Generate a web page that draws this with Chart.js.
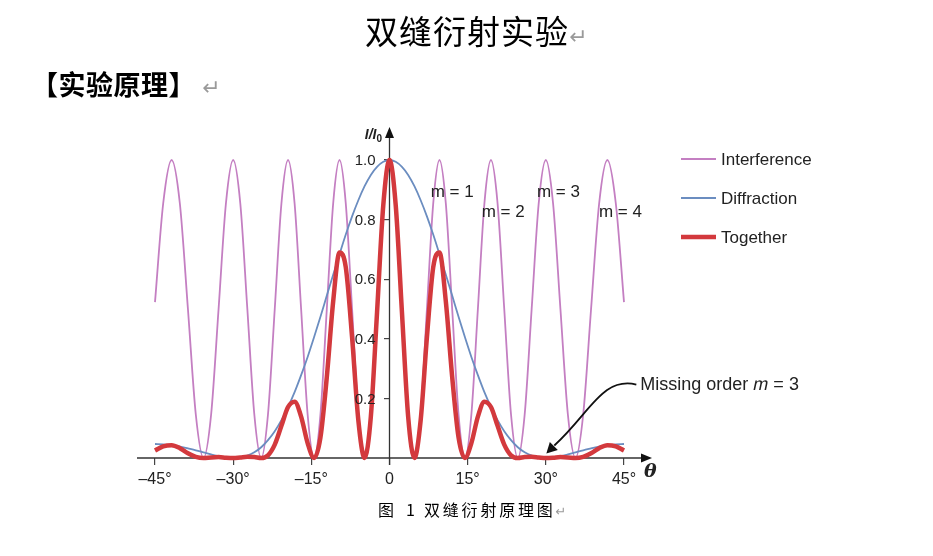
<!DOCTYPE html>
<html><head><meta charset="utf-8">
<script src="https://cdn.jsdelivr.net/npm/chart.js@4.4.1/dist/chart.umd.min.js"></script>
<style>
html,body{margin:0;padding:0;background:#fff;width:933px;height:556px;overflow:hidden;}
#wrap{position:relative;width:933px;height:556px;background:#fff;}
canvas{position:absolute;left:0;top:0;}
.t{position:absolute;white-space:nowrap;font-family:"Noto Sans CJK SC",sans-serif;color:#000;}
.ret{color:#9a9a9a;font-family:"DejaVu Sans",sans-serif;font-weight:400;}
</style></head><body>
<div id="wrap">
<canvas id="c" width="933" height="556"></canvas>
<div class="t" style="left:365px;top:14px;font-size:33px;line-height:33px;letter-spacing:1px;">双缝衍射实验<span class="ret" style="font-size:22px;letter-spacing:0;">↵</span></div>
<div class="t" style="left:31px;top:70px;font-size:27px;line-height:27px;font-weight:700;letter-spacing:0.5px;">【实验原理】<span class="ret" style="font-size:22px;margin-left:6px;letter-spacing:0;">↵</span></div>
<div class="t" style="left:378px;top:501px;font-size:16px;line-height:16px;">图</div>
<div class="t" style="left:406px;top:501px;font-size:16px;line-height:16px;">1</div>
<div class="t" style="left:424px;top:501px;font-size:16px;line-height:16px;letter-spacing:2.8px;">双缝衍射原理图<span class="ret" style="font-size:13px;letter-spacing:0;">↵</span></div>
</div>
<script>
// ---- data ----
const angles = [-45, -43.43, -41.81, -40.23, -38.68, -37.17, -35.69, -34.23, -32.80, -31.39,
  -30, -28.63, -27.28, -25.94, -24.62, -23.32, -22.02, -20.74, -19.47, -18.21,
  -16.96, -15.71, -14.48, -13.25, -12.03, -10.81, -9.59, -8.39, -7.18, -5.98,
  -4.78, -3.58, -2.39, -1.19, 0, 1.19, 2.39, 3.58, 4.78, 5.98,
  7.18, 8.39, 9.59, 10.81, 12.03, 13.25, 14.48, 15.71, 16.96, 18.21,
  19.47, 20.74, 22.02, 23.32, 24.62, 25.94, 27.28, 28.63, 30, 31.39,
  32.80, 34.23, 35.69, 37.17, 38.68, 40.23, 41.81, 43.43, 45];

const interference = [0.523, 0.854, 1, 0.854, 0.5, 0.146, 0, 0.146, 0.5, 0.854,
  1, 0.854, 0.5, 0.146, 0, 0.146, 0.5, 0.854, 1, 0.854,
  0.5, 0.146, 0, 0.146, 0.5, 0.854, 1, 0.854, 0.5, 0.146,
  0, 0.146, 0.5, 0.854, 1, 0.854, 0.5, 0.146, 0, 0.146,
  0.5, 0.854, 1, 0.854, 0.5, 0.146, 0, 0.146, 0.5, 0.854,
  1, 0.854, 0.5, 0.146, 0, 0.146, 0.5, 0.854, 1, 0.854,
  0.5, 0.146, 0, 0.146, 0.5, 0.854, 1, 0.854, 0.523];

const diffraction = [0.047, 0.046, 0.043, 0.038, 0.032, 0.026, 0.019, 0.012, 0.006, 0.002,
  0, 0.002, 0.008, 0.019, 0.036, 0.060, 0.090, 0.127, 0.171, 0.221,
  0.278, 0.339, 0.405, 0.474, 0.545, 0.615, 0.684, 0.750, 0.811, 0.865,
  0.912, 0.950, 0.977, 0.994, 1, 0.994, 0.977, 0.950, 0.912, 0.865,
  0.811, 0.750, 0.684, 0.615, 0.545, 0.474, 0.405, 0.339, 0.278, 0.221,
  0.171, 0.127, 0.090, 0.060, 0.036, 0.019, 0.008, 0.002, 0, 0.002,
  0.006, 0.012, 0.019, 0.026, 0.032, 0.038, 0.043, 0.046, 0.047];

const together = [0.025, 0.039, 0.043, 0.033, 0.016, 0.004, 0, 0.002, 0.003, 0.001,
  0, 0.002, 0.004, 0.003, 0, 0.009, 0.045, 0.108, 0.171, 0.189,
  0.139, 0.050, 0, 0.069, 0.272, 0.525, 0.690, 0.640, 0.405, 0.127,
  0, 0.139, 0.489, 0.849, 1, 0.849, 0.489, 0.139, 0, 0.127,
  0.405, 0.640, 0.690, 0.525, 0.272, 0.069, 0, 0.050, 0.139, 0.189,
  0.171, 0.108, 0.045, 0.009, 0, 0.003, 0.004, 0.002, 0, 0.001,
  0.003, 0.002, 0, 0.004, 0.016, 0.033, 0.043, 0.039, 0.025];

const seriesNames = ['Interference', 'Diffraction', 'Together'];
const xTicks = [-45, -30, -15, 0, 15, 30, 45];
const yTicks = [0, 0.2, 0.4, 0.6, 0.8, 1.0];
const orderLabels = [
  {text: 'm = 1', x: 7.9, y: 0.893},
  {text: 'm = 2', x: 17.7, y: 0.826},
  {text: 'm = 3', x: 28.3, y: 0.893},
  {text: 'm = 4', x: 40.2, y: 0.826}
];

// ---- styles ----
const COLORS = ['#c47fc2', '#6b8dc0', '#d3393d'];
const WIDTHS = [1.8, 1.8, 4.5];
const FONT = '"Liberation Sans", Arial, sans-serif';
const series = [interference, diffraction, together];

const datasets = series.map((vals, i) => ({
  label: seriesNames[i],
  data: angles.map((a, j) => ({x: a, y: vals[j]})),
  borderColor: COLORS[i],
  backgroundColor: COLORS[i],
  borderWidth: WIDTHS[i],
  pointRadius: 0,
  fill: false,
  cubicInterpolationMode: 'monotone',
  clip: false,
  order: 3 - i
}));

function slanted(ctx, text, x, y) {
  ctx.save();
  ctx.translate(x, y);
  ctx.transform(1, 0, -0.21, 1, 0, 0);
  ctx.fillText(text, 0, 0);
  ctx.restore();
}

const decor = {
  id: 'decor',
  beforeDatasetsDraw(chart) {
    const {ctx, scales: {x, y}} = chart;
    const x0 = x.getPixelForValue(0), y0 = y.getPixelForValue(0);
    const xl = x.getPixelForValue(-45) - 18, xr = x.getPixelForValue(45) + 28;
    const yt = y.getPixelForValue(1) - 33;
    ctx.save();
    ctx.strokeStyle = '#333'; ctx.fillStyle = '#111'; ctx.lineWidth = 1.3;
    ctx.beginPath(); ctx.moveTo(xl, y0); ctx.lineTo(xr - 6, y0); ctx.stroke();
    ctx.beginPath(); ctx.moveTo(xr, y0); ctx.lineTo(xr - 11, y0 - 4.5); ctx.lineTo(xr - 11, y0 + 4.5); ctx.closePath(); ctx.fill();
    ctx.beginPath(); ctx.moveTo(x0, y0 + 7); ctx.lineTo(x0, yt + 6); ctx.stroke();
    ctx.beginPath(); ctx.moveTo(x0, yt); ctx.lineTo(x0 - 4.5, yt + 11); ctx.lineTo(x0 + 4.5, yt + 11); ctx.closePath(); ctx.fill();
    ctx.restore();
  },
  afterDraw(chart) {
    const {ctx, scales: {x, y}} = chart;
    const x0 = x.getPixelForValue(0), y0 = y.getPixelForValue(0);
    const yt = y.getPixelForValue(1) - 33;
    ctx.save();
    ctx.fillStyle = '#222';
    // y tick labels, left of the centred axis
    ctx.font = '15px ' + FONT;
    ctx.textAlign = 'right';
    ctx.textBaseline = 'middle';
    y.ticks.forEach(t => {
      if (t.value === 0) return;
      ctx.fillText(t.value.toFixed(1), x0 - 14, y.getPixelForValue(t.value) + 1);
    });
    // axis titles
    ctx.textBaseline = 'alphabetic';
    ctx.font = 'italic bold 14px ' + FONT;
    ctx.textAlign = 'right';
    ctx.fillText('I/I', x0 - 13, yt + 12);
    ctx.font = 'bold 10px ' + FONT;
    ctx.textAlign = 'left';
    ctx.fillText('0', x0 - 13, yt + 15);
    ctx.font = 'italic bold 19px "DejaVu Serif", "Liberation Serif", serif';
    ctx.fillText('θ', x.getPixelForValue(45) + 20, y0 + 19);
    // order labels
    ctx.font = '17px ' + FONT;
    ctx.textBaseline = 'middle';
    ctx.textAlign = 'left';
    orderLabels.forEach(o => ctx.fillText(o.text, x.getPixelForValue(o.x), y.getPixelForValue(o.y)));
    // missing order annotation
    const tx = x.getPixelForValue(30) + 0.5, ty = y.getPixelForValue(0.015);
    const lx = tx + 94, ly = ty - 69;
    ctx.font = '18px ' + FONT;
    let cx = lx;
    ctx.fillText('Missing order ', cx, ly + 1); cx += ctx.measureText('Missing order ').width;
    slanted(ctx, 'm', cx, ly + 1); cx += ctx.measureText('m').width;
    ctx.fillText(' = 3', cx, ly + 1);
    ctx.strokeStyle = '#111'; ctx.lineWidth = 1.8;
    ctx.beginPath();
    ctx.moveTo(lx - 4, ly);
    ctx.bezierCurveTo(lx - 38, ly - 8, lx - 50, ly + 28, tx + 8, ty - 8);
    ctx.stroke();
    ctx.fillStyle = '#111';
    ctx.beginPath();
    ctx.moveTo(tx, ty);
    ctx.lineTo(tx + 11.5, ty - 3.5);
    ctx.lineTo(tx + 3.5, ty - 11.5);
    ctx.closePath(); ctx.fill();
    // legend
    const lgX = 681, lgY = [159, 198, 237];
    ctx.font = '17px ' + FONT;
    ctx.textBaseline = 'middle';
    chart.data.datasets.forEach((ds, i) => {
      ctx.strokeStyle = ds.borderColor;
      ctx.lineWidth = i === 2 ? 4.5 : 2;
      ctx.beginPath(); ctx.moveTo(lgX, lgY[i]); ctx.lineTo(lgX + 35, lgY[i]); ctx.stroke();
      ctx.fillStyle = '#222';
      ctx.fillText(ds.label, lgX + 40, lgY[i] + 1);
    });
    ctx.restore();
  }
};

new Chart(document.getElementById('c'), {
  type: 'line',
  data: {datasets},
  options: {
    responsive: false,
    animation: false,
    devicePixelRatio: 1,
    layout: {padding: {left: 155, right: 309, top: 160, bottom: 98}},
    plugins: {legend: {display: false}, tooltip: {enabled: false}},
    elements: {point: {radius: 0}},
    scales: {
      x: {
        type: 'linear', min: -45, max: 45,
        position: {y: 0},
        afterBuildTicks: s => { s.ticks = xTicks.map(v => ({value: v})); },
        ticks: {
          autoSkip: false, maxRotation: 0, padding: 5, color: '#222',
          font: {family: FONT, size: 16},
          callback: v => v === 0 ? '0' : (v < 0 ? '\u2013' + Math.abs(v) : v) + '\u00b0'
        },
        grid: {drawOnChartArea: false, drawTicks: true, tickLength: 7, color: '#444', lineWidth: 1.2},
        border: {display: false}
      },
      y: {
        type: 'linear', min: 0, max: 1,
        position: {x: 0},
        afterBuildTicks: s => { s.ticks = yTicks.map(v => ({value: v})); },
        ticks: {display: false},
        grid: {
          drawOnChartArea: false, drawTicks: true, tickLength: 6, lineWidth: 1.2,
          color: c => (c.tick && c.tick.value === 0) ? 'rgba(0,0,0,0)' : '#444'
        },
        border: {display: false}
      }
    }
  },
  plugins: [decor]
});
</script>
</body></html>
